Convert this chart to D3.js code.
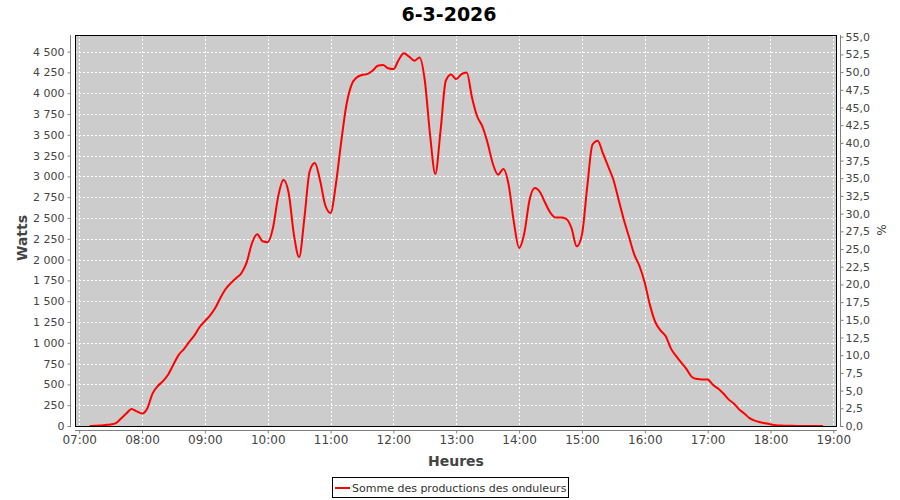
<!DOCTYPE html>
<html>
<head>
<meta charset="utf-8">
<script src="https://cdn.jsdelivr.net/npm/d3@7/dist/d3.min.js"></script>
<style>
html,body{margin:0;padding:0;background:#fff;}
svg{display:block;font-family:"DejaVu Sans",sans-serif;}
</style>
</head>
<body>
<svg id="chart" width="900" height="500"></svg>
<script>
// ---- data ----
const title = "6-3-2026";
const seriesName = "Somme des productions des onduleurs";
const startTime = "07:10";
const stepMinutes = 5;
const watts = [
  0, 2, 5, 12, 18, 35, 90, 150, 205, 175, 150, 210,
  390, 480, 540, 620, 740, 855, 925, 1010, 1090, 1190, 1260, 1330,
  1420, 1545, 1650, 1720, 1780, 1840, 1970, 2200, 2305, 2220, 2210, 2380,
  2760, 2960, 2800, 2300, 2030, 2500, 3060, 3160, 2950, 2650, 2560, 2900,
  3400, 3850, 4100, 4190, 4220, 4230, 4270, 4330, 4340, 4300, 4290, 4400,
  4480, 4440, 4390, 4430, 4150, 3500, 3030, 3550, 4150, 4225, 4170, 4230,
  4250, 3950, 3720, 3600, 3400, 3150, 3020, 3090, 2900, 2450, 2140, 2320,
  2720, 2860, 2810, 2680, 2560, 2505, 2505, 2490, 2380, 2160, 2300, 2870,
  3380, 3430, 3280, 3120, 2960, 2720, 2480, 2270, 2060, 1920, 1720, 1450,
  1250, 1150, 1080, 930, 840, 760, 680, 590, 565, 560, 560, 495,
  450, 390, 320, 270, 200, 150, 95, 65, 45, 32, 20, 10,
  5, 3, 2, 1, 0, 0, 0, 0, 0
];
const hourTicks = ["07:00","08:00","09:00","10:00","11:00","12:00","13:00","14:00","15:00","16:00","17:00","18:00","19:00"];
const wattTicks = [0,250,500,750,1000,1250,1500,1750,2000,2250,2500,2750,3000,3250,3500,3750,4000,4250,4500];
const pctTicks = [0,2.5,5,7.5,10,12.5,15,17.5,20,22.5,25,27.5,30,32.5,35,37.5,40,42.5,45,47.5,50,52.5,55];
const xDomain = ["06:56","19:03.5"];
const wattMax = 4700;
const pctMax = 55.24;

// ---- helpers ----
function toMin(s){ const [h,m] = s.split(":"); return (+h)*60 + (+m); }
const t0 = toMin(startTime);
const data = watts.map((w,i)=>({t: t0 + i*stepMinutes, w}));

const L = 75, R = 837, T = 35, B = 426;
const svg = d3.select("#chart");

const x = d3.scaleLinear().domain(xDomain.map(toMin)).range([L, R]);
const y = d3.scaleLinear().domain([0, wattMax]).range([B, T]);
const y2 = d3.scaleLinear().domain([0, pctMax]).range([B, T]);

// plot background
svg.append("rect").attr("x",L).attr("y",T).attr("width",R-L).attr("height",B-T).attr("fill","#cccccc");

// grid
const grid = svg.append("g").attr("stroke","#ffffff").attr("stroke-width",1).attr("stroke-dasharray","2,2");
hourTicks.forEach(h=>{
  const px = Math.round(x(toMin(h)))+0.5;
  grid.append("line").attr("x1",px).attr("x2",px).attr("y1",T).attr("y2",B);
});
wattTicks.forEach(v=>{
  const py = Math.round(y(v))+0.5;
  grid.append("line").attr("x1",L).attr("x2",R).attr("y1",py).attr("y2",py);
});

// line
const line = d3.line().x(d=>x(d.t)).y(d=>y(d.w)).curve(d3.curveMonotoneX);
svg.append("path").datum(data).attr("d",line).attr("fill","none").attr("stroke","#ff0000").attr("stroke-width",2).attr("stroke-linejoin","round");

// plot border
svg.append("rect").attr("x",L+0.5).attr("y",T+0.5).attr("width",R-L-1).attr("height",B-T).attr("fill","none").attr("stroke","#000").attr("stroke-width",1);

const fmtW = v => d3.format(",")(v).replace(/,/g," ");
const fmtP = v => d3.format(".1f")(v).replace(".",",");

function styleAxis(g){
  g.selectAll(".domain").attr("stroke","#808080");
  g.selectAll(".tick line").attr("stroke","#808080");
  g.selectAll("text").attr("fill","#444").style("font-size","11px").style("font-family","'DejaVu Sans',sans-serif");
}

// left axis
const gl = svg.append("g").attr("transform",`translate(${L-4.5},0)`)
  .call(d3.axisLeft(y).tickValues(wattTicks).tickFormat(fmtW).tickSizeInner(3).tickSizeOuter(0).tickPadding(3));
gl.select(".domain").attr("d",`M0,${T}V${B+1}`);
styleAxis(gl);

// right axis
const gr = svg.append("g").attr("transform",`translate(${R+3.5},0)`)
  .call(d3.axisRight(y2).tickValues(pctTicks).tickFormat(fmtP).tickSizeInner(3).tickSizeOuter(0).tickPadding(2));
gr.select(".domain").attr("d",`M0,${T}V${B+1}`);
styleAxis(gr);

// bottom axis
const gb = svg.append("g").attr("transform",`translate(0,${B+4.5})`)
  .call(d3.axisBottom(x).tickValues(hourTicks.map(toMin)).tickFormat((d,i)=>hourTicks[i]).tickSizeInner(3).tickSizeOuter(0).tickPadding(2));
gb.select(".domain").attr("d",`M${L},0H${R}`);
styleAxis(gb);
gb.selectAll("text").style("font-size","12px");

// title
svg.append("text").attr("x",449).attr("y",21).attr("text-anchor","middle")
  .style("font-size","19px").style("font-weight","bold").attr("fill","#000").text(title);

// axis labels
svg.append("text").attr("transform",`translate(27,238) rotate(-90)`).attr("text-anchor","middle")
  .style("font-size","14px").style("font-weight","bold").attr("fill","#444").text("Watts");
svg.append("text").attr("x",456).attr("y",466).attr("text-anchor","middle")
  .style("font-size","14px").style("font-weight","bold").attr("fill","#444").text("Heures");
svg.append("text").attr("transform",`translate(877,230) rotate(90)`).attr("text-anchor","middle")
  .style("font-size","12px").attr("fill","#444").text("%");

// legend
const lg = svg.append("g");
lg.append("rect").attr("x",332.5).attr("y",477.5).attr("width",236).attr("height",20).attr("fill","#fff").attr("stroke","#000");
lg.append("line").attr("x1",335).attr("x2",350).attr("y1",488).attr("y2",488).attr("stroke","#ff0000").attr("stroke-width",2);
lg.append("text").attr("x",352).attr("y",492).style("font-size","11px").attr("fill","#333").text(seriesName);
</script>
</body>
</html>
